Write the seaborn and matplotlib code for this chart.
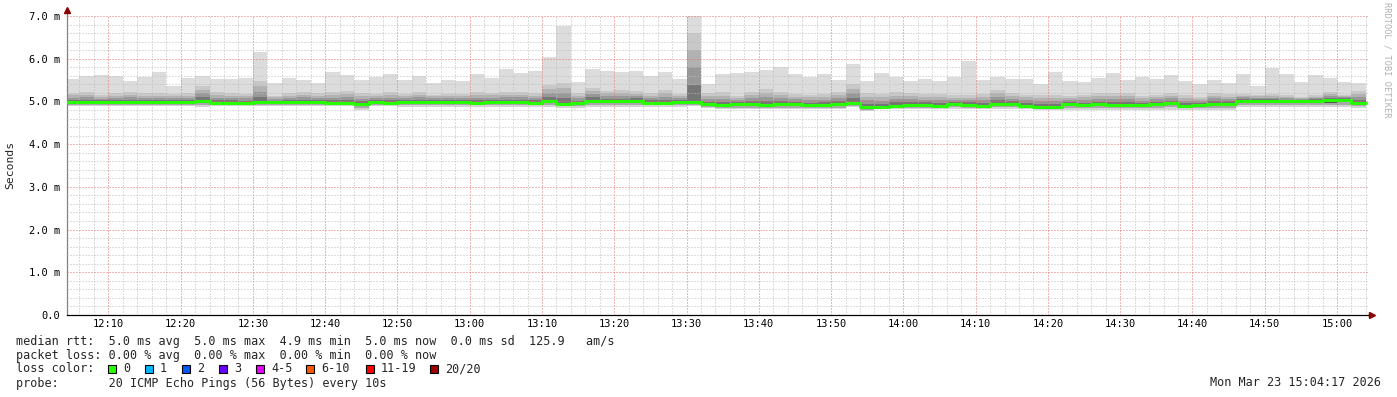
import matplotlib
matplotlib.use("Agg")
import matplotlib.pyplot as plt
from matplotlib.patches import Rectangle
from matplotlib.ticker import MultipleLocator, FixedLocator, FixedFormatter
import numpy as np
import pandas as pd
import seaborn as sns

# 2 minute bins, 12:04 .. 15:02 (90 bins)
bin_start = pd.date_range("2026-03-23 12:04", periods=90, freq="2min")

# median rtt per bin (ms)
rtt_median = [
    4.98, 4.98, 4.98, 4.98, 4.98, 4.98, 4.98, 4.98, 4.98, 5.02,
    4.97, 4.97, 4.97, 4.98, 4.98, 4.98, 4.98, 4.98, 4.97, 4.96,
    4.94, 4.98, 4.97, 4.98, 4.98, 4.99, 4.98, 4.98, 4.97, 4.99,
    4.98, 4.98, 4.97, 5.02, 4.95, 4.96, 5.02, 5.00, 5.00, 5.02,
    4.97, 4.96, 4.99, 4.99, 4.93, 4.91, 4.93, 4.93, 4.91, 4.93,
    4.93, 4.91, 4.91, 4.93, 4.97, 4.87, 4.87, 4.90, 4.92, 4.92,
    4.90, 4.94, 4.92, 4.89, 4.94, 4.94, 4.90, 4.86, 4.88, 4.93,
    4.91, 4.93, 4.91, 4.91, 4.91, 4.94, 4.96, 4.89, 4.91, 4.95,
    4.95, 5.02, 5.01, 5.01, 5.01, 5.02, 5.02, 5.03, 5.04, 4.97,
]
# highest ping per bin (top of the smoke)
rtt_max = [
    5.52, 5.60, 5.62, 5.60, 5.48, 5.57, 5.69, 5.36, 5.54, 5.60,
    5.53, 5.53, 5.56, 6.16, 5.43, 5.56, 5.50, 5.43, 5.69, 5.62,
    5.50, 5.57, 5.64, 5.49, 5.60, 5.42, 5.50, 5.48, 5.64, 5.55,
    5.76, 5.67, 5.71, 6.04, 6.77, 5.46, 5.76, 5.72, 5.69, 5.71,
    5.60, 5.69, 5.52, 7.02, 5.41, 5.64, 5.67, 5.69, 5.74, 5.81,
    5.64, 5.57, 5.64, 5.50, 5.88, 5.48, 5.67, 5.57, 5.48, 5.53,
    5.48, 5.57, 5.95, 5.50, 5.57, 5.53, 5.53, 5.40, 5.69, 5.48,
    5.46, 5.54, 5.67, 5.50, 5.57, 5.53, 5.62, 5.48, 5.41, 5.50,
    5.43, 5.64, 5.36, 5.79, 5.64, 5.46, 5.62, 5.55, 5.46, 5.43,
]
# top of the dense (darker) part of the smoke
rtt_upper = [
    5.20, 5.21, 5.15, 5.19, 5.21, 5.19, 5.19, 5.17, 5.19, 5.36,
    5.21, 5.19, 5.17, 5.48, 5.13, 5.19, 5.22, 5.19, 5.21, 5.25,
    5.19, 5.17, 5.21, 5.17, 5.21, 5.16, 5.17, 5.17, 5.21, 5.19,
    5.21, 5.21, 5.19, 5.39, 5.44, 5.19, 5.31, 5.25, 5.27, 5.24,
    5.19, 5.27, 5.17, 6.60, 5.19, 5.21, 5.13, 5.21, 5.30, 5.21,
    5.17, 5.16, 5.17, 5.22, 5.41, 5.19, 5.17, 5.21, 5.19, 5.17,
    5.17, 5.14, 5.14, 5.17, 5.27, 5.19, 5.16, 5.14, 5.14, 5.13,
    5.16, 5.19, 5.19, 5.19, 5.13, 5.16, 5.19, 5.14, 5.11, 5.19,
    5.17, 5.17, 5.16, 5.17, 5.14, 5.11, 5.14, 5.21, 5.16, 5.24,
]
# lowest ping per bin
rtt_min = [
    4.89, 4.89, 4.89, 4.89, 4.89, 4.89, 4.89, 4.89, 4.89, 4.88,
    4.89, 4.89, 4.89, 4.89, 4.89, 4.89, 4.89, 4.89, 4.89, 4.89,
    4.80, 4.89, 4.89, 4.88, 4.88, 4.88, 4.88, 4.88, 4.88, 4.88,
    4.88, 4.88, 4.88, 4.88, 4.85, 4.85, 4.88, 4.88, 4.88, 4.88,
    4.88, 4.88, 4.88, 4.89, 4.84, 4.82, 4.82, 4.82, 4.82, 4.82,
    4.82, 4.82, 4.82, 4.82, 4.86, 4.78, 4.82, 4.82, 4.82, 4.82,
    4.82, 4.82, 4.82, 4.82, 4.83, 4.83, 4.82, 4.80, 4.80, 4.81,
    4.81, 4.81, 4.81, 4.81, 4.81, 4.81, 4.81, 4.81, 4.81, 4.81,
    4.81, 4.86, 4.86, 4.86, 4.86, 4.86, 4.86, 4.86, 4.86, 4.85,
]

x_tick_labels = ["12:10", "12:20", "12:30", "12:40", "12:50", "13:00", "13:10",
                 "13:20", "13:30", "13:40", "13:50", "14:00", "14:10", "14:20",
                 "14:30", "14:40", "14:50", "15:00"]
y_tick_labels = ["0.0", "1.0 m", "2.0 m", "3.0 m", "4.0 m", "5.0 m", "6.0 m", "7.0 m"]

loss_labels = ["0", "1", "2", "3", "4-5", "6-10", "11-19", "20/20"]
loss_colors = ["#26ff00", "#00b8ff", "#0059ff", "#6a00ff", "#e600ff",
               "#ff5500", "#ff0000", "#a10000"]

stats_lines = [
    "median rtt:  5.0 ms avg  5.0 ms max  4.9 ms min  5.0 ms now  0.0 ms sd  125.9   am/s",
    "packet loss: 0.00 % avg  0.00 % max  0.00 % min  0.00 % now",
    "loss color:",
    "probe:       20 ICMP Echo Pings (56 Bytes) every 10s",
]
stamp = "Mon Mar 23 15:04:17 2026"

sns.set_style("white")
plt.rcParams["font.family"] = ["DejaVu Sans Mono"]

W, H = 1397, 397
fig = plt.figure(figsize=(W / 100, H / 100), dpi=100)
ax = fig.add_axes([67 / W, (H - 315) / H, (1368 - 67) / W, 299 / H])

t0 = pd.Timestamp("2026-03-23 12:00")
xs = np.array((bin_start - t0).total_seconds() / 60.0)
med = np.array(rtt_median)
hi = np.array(rtt_max)
up = np.array(rtt_upper)
lo = np.array(rtt_min)

# smoke below the median: light -> dark
below_cols = ["#d4d4d4", "#a8a8a8", "#555555"]
for i, c in enumerate(below_cols):
    b0 = lo + (med - lo) * i / 3
    b1 = lo + (med - lo) * (i + 1) / 3
    ax.bar(xs, b1 - b0, bottom=b0, width=2, align="edge", color=c, lw=0, zorder=1)
# dense smoke above the median: dark -> light
above_cols = ["#767676", "#989898", "#b2b2b2", "#c8c8c8"]
for i, c in enumerate(above_cols):
    b0 = med + (up - med) * i / 4
    b1 = med + (up - med) * (i + 1) / 4
    ax.bar(xs, b1 - b0, bottom=b0, width=2, align="edge", color=c, lw=0, zorder=1)
ax.bar(xs, hi - up, bottom=up, width=2, align="edge", color="#dcdcdc", lw=0, zorder=1)

# median line (steps)
step_x = list(xs) + [xs[-1] + 2]
step_y = list(med) + [med[-1]]
sns.lineplot(x=step_x, y=step_y, drawstyle="steps-post", color="#26ff00",
             lw=2.2, ax=ax, zorder=3)

ax.set_xlim(4 + 17 / 60, 184 + 17 / 60)
ax.set_ylim(0, 7.0)

xt = [(int(s[:2]) - 12) * 60 + int(s[3:]) for s in x_tick_labels]
ax.xaxis.set_major_locator(FixedLocator(xt))
ax.xaxis.set_major_formatter(FixedFormatter(x_tick_labels))
ax.xaxis.set_minor_locator(MultipleLocator(2))
ax.yaxis.set_major_locator(FixedLocator(range(len(y_tick_labels))))
ax.yaxis.set_major_formatter(FixedFormatter(y_tick_labels))
ax.yaxis.set_minor_locator(MultipleLocator(0.2))

ax.set_axisbelow(False)
ax.grid(which="minor", color="#bdbdbd", ls=(0, (1, 2)), lw=0.72)
ax.grid(which="major", color="#e07070", ls=(0, (1, 2)), lw=0.72)

ax.tick_params(axis="x", which="both", length=0, pad=3, labelsize=7.5, colors="#000000")
ax.tick_params(axis="y", which="major", length=2.5, width=0.72, pad=2.5,
               labelsize=7.5, color="#808080", labelcolor="#000000")
ax.tick_params(axis="y", which="minor", length=0)

for s in ["top", "right"]:
    ax.spines[s].set_visible(False)
ax.spines["left"].set_color("#808080")
ax.spines["left"].set_linewidth(0.9)
ax.spines["bottom"].set_color("#000000")
ax.spines["bottom"].set_linewidth(0.9)
ax.set_xlabel("")
ax.set_ylabel("")

# axis arrows
ax.plot([0, 0], [1, 1.02], transform=ax.transAxes, color="#808080", lw=0.9, clip_on=False)
ax.plot([0], [1.02], marker="^", ms=4, color="#8b0000", transform=ax.transAxes, clip_on=False)
ax.plot([1, 1.003], [0, 0], transform=ax.transAxes, color="#000000", lw=0.9, clip_on=False)
ax.plot([1.003], [0], marker=">", ms=4, color="#8b0000", transform=ax.transAxes, clip_on=False)

def px(x, y):
    return x / W, 1 - y / H

fig.text(*px(10, 165), "Seconds", rotation=90, ha="center", va="center", fontsize=8.2)
fig.text(*px(1387, 60), "RRDTOOL / TOBI OETIKER", rotation=270, ha="center",
         va="center", fontsize=6.2, color="#b0b0b0")

for k, line in enumerate(stats_lines):
    fig.text(*px(16, 341 + 14 * k), line, ha="left", va="center", fontsize=8.5)

sq_x = [108, 145, 182, 219, 256, 306, 366, 430]
for sx, lab, col in zip(sq_x, loss_labels, loss_colors):
    fig.add_artist(Rectangle(px(sx, 373), 8 / W, 8 / H, transform=fig.transFigure,
                             facecolor=col, edgecolor="#000000", lw=0.8))
    fig.text(*px(sx + 15, 369), lab, ha="left", va="center", fontsize=8.5)

fig.text(*px(1381, 383), stamp, ha="right", va="center", fontsize=8.5)

fig.savefig("out.png", dpi=100)
